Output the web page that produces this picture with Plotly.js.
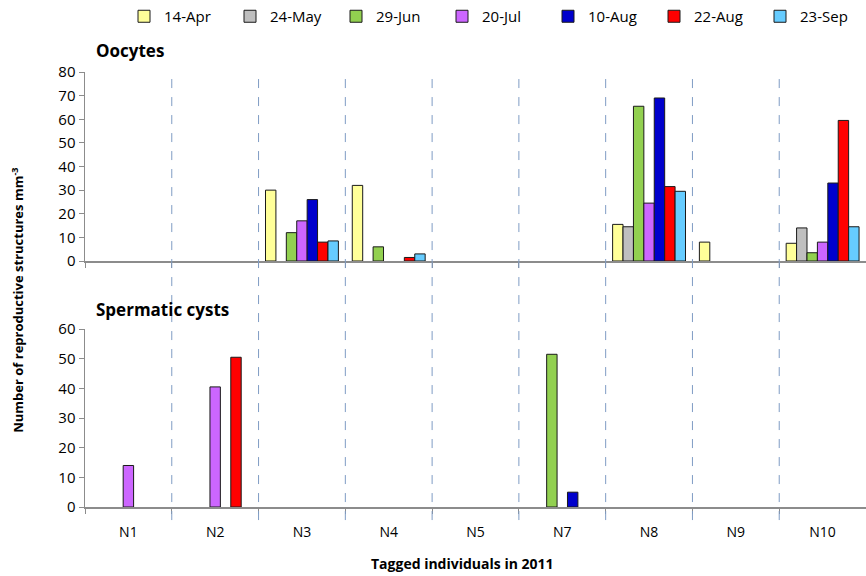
<!DOCTYPE html>
<html>
<head>
<meta charset="utf-8">
<script src="https://cdn.plot.ly/plotly-3.0.1.min.js"></script>
<style>html,body{margin:0;padding:0;background:#fff;}#chart{width:866px;height:576px;}</style>
</head>
<body>
<div id="chart"></div>
<script>
const categories = ["N1","N2","N3","N4","N5","N7","N8","N9","N10"];
const dates = ["14-Apr","24-May","29-Jun","20-Jul","10-Aug","22-Aug","23-Sep"];
const colors = ["#FFFF99","#BFBFBF","#92D050","#CC66FF","#0000CC","#FF0000","#66CCFF"];

// Oocytes (per date, across categories)
const oocytes_14Apr = [null, null, 30, 32, null, null, 15.5, 8, 7.5];
const oocytes_24May = [null, null, null, null, null, null, 14.5, null, 14];
const oocytes_29Jun = [null, null, 12, 6, null, null, 65.5, null, 3.5];
const oocytes_20Jul = [null, null, 17, null, null, null, 24.5, null, 8];
const oocytes_10Aug = [null, null, 26, null, null, null, 69, null, 33];
const oocytes_22Aug = [null, null, 8, 1.5, null, null, 31.5, null, 59.5];
const oocytes_23Sep = [null, null, 8.5, 3, null, null, 29.5, null, 14.5];

// Spermatic cysts
const cysts_14Apr = [null, null, null, null, null, null, null, null, null];
const cysts_24May = [null, null, null, null, null, null, null, null, null];
const cysts_29Jun = [null, null, null, null, null, 51.5, null, null, null];
const cysts_20Jul = [14, 40.5, null, null, null, null, null, null, null];
const cysts_10Aug = [null, null, null, null, null, 5, null, null, null];
const cysts_22Aug = [null, 50.5, null, null, null, null, null, null, null];
const cysts_23Sep = [null, null, null, null, null, null, null, null, null];

const oocyteSeries = [oocytes_14Apr, oocytes_24May, oocytes_29Jun, oocytes_20Jul, oocytes_10Aug, oocytes_22Aug, oocytes_23Sep];
const cystSeries = [cysts_14Apr, cysts_24May, cysts_29Jun, cysts_20Jul, cysts_10Aug, cysts_22Aug, cysts_23Sep];

const traces = [];
dates.forEach((d, i) => {
  traces.push({
    type: "bar", name: d, x: categories, y: oocyteSeries[i],
    xaxis: "x", yaxis: "y", legendgroup: d, showlegend: true,
    marker: {color: colors[i], line: {color: "#1a1a1a", width: 1}}
  });
});
dates.forEach((d, i) => {
  traces.push({
    type: "bar", name: d, x: categories, y: cystSeries[i],
    xaxis: "x2", yaxis: "y2", legendgroup: d, showlegend: false,
    marker: {color: colors[i], line: {color: "#1a1a1a", width: 1}}
  });
});

const font = "Open Sans, Liberation Sans, sans-serif";
const shapes = [];
for (let k = 0; k < categories.length - 1; k++) {
  shapes.push({
    type: "line", xref: "x2", yref: "paper",
    x0: k + 0.5, x1: k + 0.5, y0: -0.03, y1: 1,
    line: {color: "#7F9CC4", width: 1, dash: "dash"}
  });
}

const axisCommon = {
  showgrid: false, zeroline: false, showline: true, linecolor: "#8c8c8c", linewidth: 1.5,
  ticks: "outside", tickcolor: "#8c8c8c", ticklen: 5
};

const layout = {
  width: 866, height: 576,
  margin: {l: 85, r: 0, t: 72, b: 69},
  paper_bgcolor: "#ffffff", plot_bgcolor: "rgba(0,0,0,0)",
  font: {family: font, color: "#000", size: 14},
  barmode: "group", bargap: 0.16, bargroupgap: 0,
  showlegend: true,
  legend: {orientation: "h", x: 0.105, xanchor: "left", yref: "container", y: 1, yanchor: "top",
           font: {family: font, size: 15, color: "#000"}, itemwidth: 30, traceorder: "normal",
           entrywidth: 61, entrywidthmode: "pixels"},
  xaxis: Object.assign({}, axisCommon, {domain: [0,1], anchor: "y", type: "category", range: [-0.5, 8.5],
           tickson: "boundaries", showticklabels: false}),
  yaxis: Object.assign({}, axisCommon, {domain: [0.5655, 1], anchor: "x", range: [0, 80], dtick: 10,
           tickfont: {family: font, size: 15, color: "#000"}}),
  xaxis2: Object.assign({}, axisCommon, {domain: [0,1], anchor: "y2", type: "category", range: [-0.5, 8.5],
           tickson: "boundaries", ticklabelstandoff: 12, tickfont: {family: font, size: 14, color: "#000"}}),
  yaxis2: Object.assign({}, axisCommon, {domain: [0, 0.409], anchor: "x2", range: [0, 60], dtick: 10,
           tickfont: {family: font, size: 15, color: "#000"}}),
  shapes: shapes,
  annotations: [
    {text: "<b>Oocytes</b>", xref: "paper", yref: "paper", x: 0.012, y: 1.05, xanchor: "left", yanchor: "middle",
     showarrow: false, font: {family: font, size: 17, color: "#000"}},
    {text: "<b>Spermatic cysts</b>", xref: "paper", yref: "paper", x: 0.012, y: 0.453, xanchor: "left", yanchor: "middle",
     showarrow: false, font: {family: font, size: 17, color: "#000"}},
    {text: "<b>Number of reproductive structures mm<sup>-3</sup></b>", xref: "paper", yref: "paper",
     x: -0.086, y: 0.476, xanchor: "center", yanchor: "middle", textangle: -90,
     showarrow: false, font: {family: font, size: 13, color: "#000"}},
    {text: "<b>Tagged individuals in 2011</b>", xref: "paper", yref: "paper",
     x: 0.483, y: -0.129, xanchor: "center", yanchor: "middle",
     showarrow: false, font: {family: font, size: 14, color: "#000"}}
  ]
};

Plotly.newPlot("chart", traces, layout, {displayModeBar: false, staticPlot: true});
</script>
</body>
</html>
